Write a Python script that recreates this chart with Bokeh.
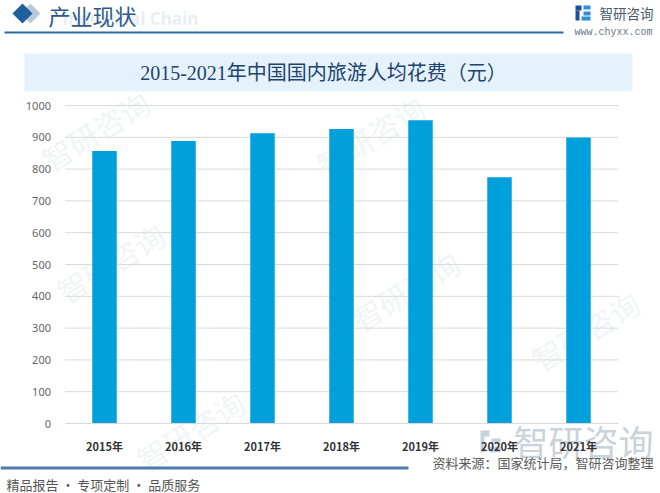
from bokeh.plotting import figure
from bokeh.models import Range1d, Label, BoxAnnotation, PolyAnnotation, FixedTicker, LinearAxis
from bokeh.embed import file_html
from bokeh.resources import INLINE

# ---------------- data ----------------
years = ["2015年", "2016年", "2017年", "2018年", "2019年", "2020年", "2021年"]
spend = [857.0, 888.2, 913.0, 925.8, 953.3, 774.1, 899.3]
y_ticks = [0, 100, 200, 300, 400, 500, 600, 700, 800, 900, 1000]
title_text = "2015-2021年中国国内旅游人均花费（元）"
header_text = "产业现状"
header_ghost = "Industrial Chain"
brand_text = "智研咨询"
site_text = "www.chyxx.com"
source_text = "资料来源：国家统计局，智研咨询整理"
footer_text = "精品报告 • 专项定制 • 品质服务"

# ---------------- geometry ----------------
W, H = 660, 493
OFF = 0  # page offset of the canvas
CJK = "'Noto Sans CJK SC'"
SERIF = "'Liberation Serif', 'Noto Sans CJK SC'"

# chart region in window pixels: value 0 at y=423, 1000 at y=105; categories 79px apart, first at x=104
px_per_unit = 318.0 / 1000.0
y_start = -(H - (423 - OFF)) / px_per_unit
y_end = 1000 + (105 - OFF) / px_per_unit
cat_w = 79.0
x_start = -(104 - OFF) / cat_w
x_end = x_start + W / cat_w
xpos = list(range(len(years)))


def sx(wx):
    return wx - OFF


def sy(wy):
    return H - (wy - OFF)


p = figure(width=W, height=H, x_range=Range1d(x_start, x_end), y_range=Range1d(y_start, y_end),
           output_backend="svg", toolbar_location=None, x_axis_type=None, y_axis_type=None,
           min_border=0, min_border_left=0, min_border_right=0, min_border_top=0, min_border_bottom=0,
           background_fill_color="white", border_fill_color="white", outline_line_color=None)


def box(l, r, t, b, color, level="underlay", alpha=1.0):
    p.add_layout(BoxAnnotation(left=sx(l), right=sx(r), top=sy(t), bottom=sy(b),
                               left_units="screen", right_units="screen",
                               top_units="screen", bottom_units="screen",
                               fill_color=color, fill_alpha=alpha, line_color=None, level=level))


def poly(xs, ys, color, level="underlay", alpha=1.0):
    p.add_layout(PolyAnnotation(xs=[sx(x) for x in xs], ys=[sy(y) for y in ys],
                                xs_units="screen", ys_units="screen",
                                fill_color=color, fill_alpha=alpha, line_color=None, level=level))


def label(x, y, text, size, color, font=CJK, align="left", style="normal", angle=0.0,
          level="annotation", alpha=1.0):
    p.add_layout(Label(x=sx(x), y=sy(y), x_units="screen", y_units="screen", text=text,
                       text_font=font, text_font_size=f"{size}px", text_color=color,
                       text_alpha=alpha, text_align=align, text_baseline="middle",
                       text_font_style=style, angle=angle, level=level))


# ---------------- decorations ----------------
wm_color = "#dbe3ec"
for (wx, wy) in [(95, 130), (110, 262), (370, 135), (405, 290), (190, 430), (585, 330)]:
    label(wx, wy, brand_text, 30, wm_color, angle=0.55, align="center", level="underlay", alpha=0.4)

label(62, 18, header_ghost, 17, "#e9eef3", font="'Open Sans'", style="bold", level="underlay")

poly([20, 30, 40, 30], [13, 3, 13, 23], "#b9c9da")
poly([12, 22, 32, 22], [13, 3, 13, 23], "#1f5f9e")
label(48, 14, header_text, 22, "#2b5b8c")
box(4, 563, 31, 33, "#2c6ba5")

# logo top right
box(575, 581, 5, 10, "#1d4f9c")
box(575, 579, 10, 20, "#1d4f9c")
box(583, 590, 5, 9, "#2f8fd8")
box(583, 590, 11, 15, "#2f8fd8")
box(581, 590, 16, 20, "#2f8fd8")
label(599, 12, brand_text, 13.5, "#4a5a6e")
label(574, 32, site_text, 10, "#6a7886", font="'Liberation Mono'")

# title banner
box(24, 632, 53, 91, "#e6f2fb")
label(323, 72, title_text, 20, "#1c4470", font=SERIF, align="center")

# ---------------- chart ----------------
# grid lines limited to the chart region
grid_x0 = [xpos[0] - 0.5] * len(y_ticks)
grid_x1 = [xpos[-1] + 0.5] * len(y_ticks)
p.segment(x0=grid_x0, x1=grid_x1, y0=y_ticks, y1=y_ticks, line_color="#d9d9d9", line_width=1,
          level="underlay")

p.vbar(x=xpos, top=spend, width=0.31, color="#00a0dc", line_color=None)

yaxis = LinearAxis(ticker=FixedTicker(ticks=y_ticks), fixed_location=xpos[0] - 0.5,
                   axis_line_color=None, major_tick_line_color=None, minor_tick_line_color=None,
                   major_label_text_font="'Noto Sans'", major_label_text_font_size="11px",
                   major_label_text_color="#666666", major_label_standoff=8)
p.add_layout(yaxis, "left")

xaxis = LinearAxis(ticker=FixedTicker(ticks=xpos), fixed_location=0,
                   bounds=(xpos[0] - 0.5, xpos[-1] + 0.5),
                   major_label_overrides={i: y for i, y in zip(xpos, years)},
                   axis_line_color="#d9d9d9", major_tick_line_color=None, minor_tick_line_color=None,
                   major_label_text_font=CJK, major_label_text_font_style="bold",
                   major_label_text_font_size="11px", major_label_text_color="#333333",
                   major_label_standoff=8)
p.add_layout(xaxis, "below")

# ---------------- bottom ----------------
box(480, 489, 430, 436, "#b8c7d6", level="underlay", alpha=0.8)
box(480, 484, 436, 452, "#b8c7d6", level="underlay", alpha=0.8)
box(491, 500, 438, 444, "#b8c7d6", level="underlay", alpha=0.8)
box(489, 500, 446, 452, "#b8c7d6", level="underlay", alpha=0.8)
label(513, 440, brand_text, 35, "#c3ccd6", level="underlay", alpha=0.9)

label(653, 462, source_text, 13, "#5a5a5a", align="right")
box(0, 408, 466, 469, "#4d7cab")
label(6, 484, footer_text, 13, "#555555")

open("out.html", "w").write(file_html(p, INLINE))
